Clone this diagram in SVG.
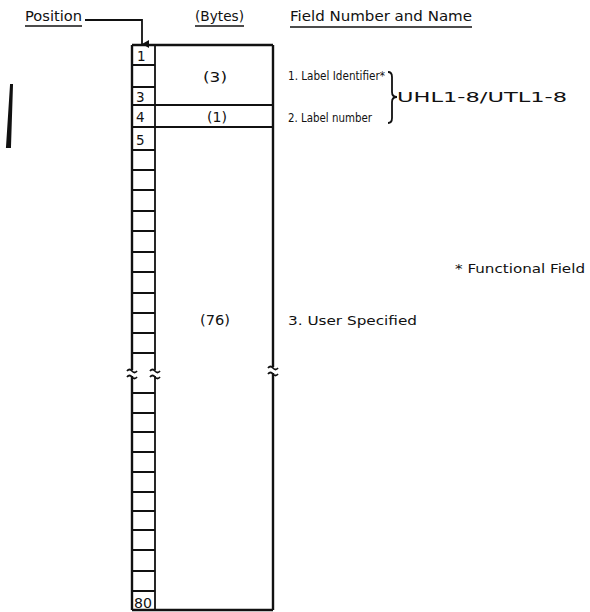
<svg xmlns="http://www.w3.org/2000/svg" width="590" height="612" viewBox="0 0 590 612">
<defs>
<style>
.t{font-family:"DejaVu Sans","Liberation Sans",sans-serif;fill:#111;}
.h{font-size:14px;}
.b{font-size:13px;}
.n{font-size:13.5px;}
.ln{stroke:#111;stroke-width:1.8;fill:none;}
.bx{stroke:#111;stroke-width:2.4;fill:none;}
.ul{stroke:#111;stroke-width:1.3;}
</style>
<marker id="ah" markerWidth="8" markerHeight="8" refX="4" refY="7" orient="auto" markerUnits="userSpaceOnUse">
<path d="M0,0 L4,7 L8,0 Z" fill="#111"/>
</marker>
</defs>
<rect width="590" height="612" fill="#fff"/>

<g id="headers">
<text class="t h" x="25" y="21" textLength="57" lengthAdjust="spacingAndGlyphs">Position</text>
<line class="ul" x1="25" y1="26" x2="82" y2="26"/>
<text class="t h" x="195" y="21" textLength="49" lengthAdjust="spacingAndGlyphs">(Bytes)</text>
<line class="ul" x1="195" y1="26" x2="244" y2="26"/>
<text class="t h" x="290" y="21" textLength="182" lengthAdjust="spacingAndGlyphs">Field Number and Name</text>
<line class="ul" x1="290" y1="27" x2="472" y2="27"/>
</g>

<g id="connectors">
<path class="ln" d="M85,20 H142 V44" marker-end="url(#ah)" stroke-width="1.4"/>
</g>

<g id="bar">
<path d="M11,85 L12,85 L10,147 L7,147 Z" fill="#111" stroke="#111" stroke-width="2"/>
</g>

<g id="record">
<line class="bx" x1="132" y1="45" x2="273" y2="45"/>
<line class="bx" x1="132" y1="610" x2="273" y2="610"/>
<path class="bx" d="M132,45 V370 M132,376 V610"/>
<path class="ln" d="M155,45 V370 M155,376 V610"/>
<path class="bx" d="M273,45 V367 M273,373 V610"/>
<path class="ln" stroke-width="1.5" d="M127,371 q2.5,-3 5,0 t5,0 M127,377 q2.5,-3 5,0 t5,0 M150,371 q2.5,-3 5,0 t5,0 M150,377 q2.5,-3 5,0 t5,0 M268,368 q2.5,-3 5,0 t5,0 M268,374 q2.5,-3 5,0 t5,0"/>
<path class="ln" d="M132,105 H273 M132,127 H273"/>
<path class="ln" d="M132,65 H155 M132,87 H155 M132,150 H155 M132,170 H155 M132,190 H155 M132,211 H155 M132,231 H155 M132,252 H155 M132,272 H155 M132,293 H155 M132,313 H155 M132,333 H155 M132,353 H155 M132,393 H155 M132,413 H155 M132,432 H155 M132,452 H155 M132,472 H155 M132,492 H155 M132,511 H155 M132,530 H155 M132,550 H155 M132,571 H155 M132,591 H155"/>
<text class="t n" x="137" y="61">1</text>
<text class="t n" x="136" y="102">3</text>
<text class="t n" x="136" y="122">4</text>
<text class="t n" x="136" y="145">5</text>
<text class="t n" x="134" y="608" textLength="18" lengthAdjust="spacingAndGlyphs">80</text>
<text class="t h" x="203" y="82" textLength="24" lengthAdjust="spacingAndGlyphs">(3)</text>
<text class="t h" x="207" y="122" textLength="20" lengthAdjust="spacingAndGlyphs">(1)</text>
<text class="t h" x="200" y="325" textLength="30" lengthAdjust="spacingAndGlyphs">(76)</text>
</g>

<g id="fields">
<text class="t b" x="288" y="80" textLength="97" lengthAdjust="spacingAndGlyphs">1. Label Identifier*</text>
<text class="t b" x="288" y="122" textLength="84" lengthAdjust="spacingAndGlyphs">2. Label number</text>
<path class="ln" stroke-width="1.3" d="M388,72 Q392,72 392,77 V92 Q392,97 397,97 Q392,97 392,102 V118 Q392,123 388,123"/>
<text class="t h" x="397" y="102" textLength="170" lengthAdjust="spacingAndGlyphs">UHL1-8/UTL1-8</text>
<text class="t b" x="288" y="325" textLength="129" lengthAdjust="spacingAndGlyphs">3. User Specified</text>
</g>

<g id="note">
<text class="t b" x="455" y="273" textLength="130" lengthAdjust="spacingAndGlyphs">* Functional Field</text>
</g>
</svg>
